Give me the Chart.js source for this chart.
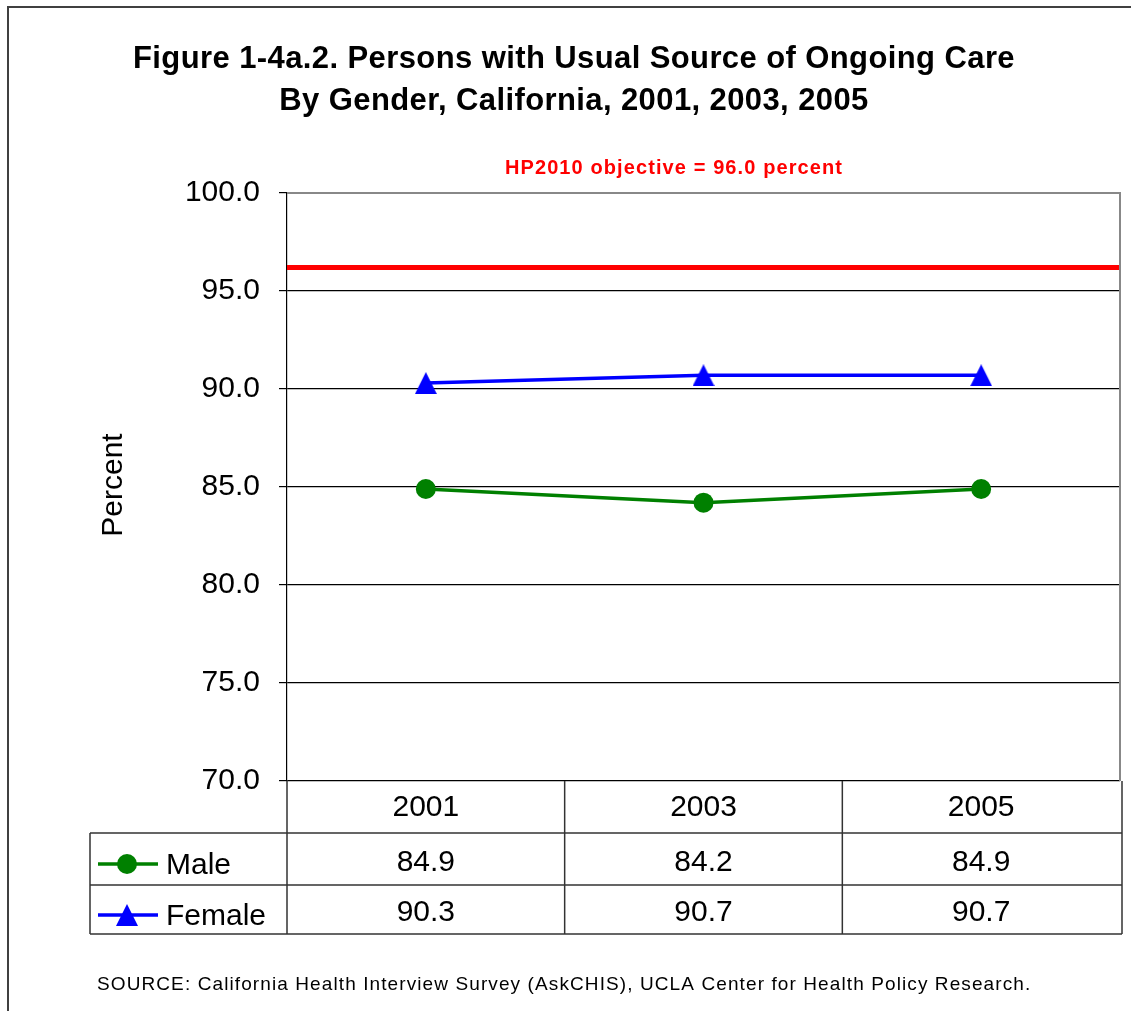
<!DOCTYPE html>
<html>
<head>
<meta charset="utf-8">
<script src="https://cdn.jsdelivr.net/npm/chart.js@4"></script>
<style>
  body { margin: 0; background: #fff; }
  #wrap { width: 1131px; height: 1011px; }
</style>
</head>
<body>
<div id="wrap"><canvas id="care"></canvas></div>
<script>
// chart data
const years = ["2001", "2003", "2005"];
const male = [84.9, 84.2, 84.9];
const female = [90.3, 90.7, 90.7];
const yTicks = [70, 75, 80, 85, 90, 95, 100];
const objectiveLevel = 96.2; // where the red line sits on the picture
const titleLines = ["Figure 1-4a.2. Persons with Usual Source of Ongoing Care", "By Gender, California, 2001, 2003, 2005"];
const objectiveText = "HP2010 objective = 96.0 percent";
const sourceText = "SOURCE: California Health Interview Survey (AskCHIS), UCLA Center for Health Policy Research.";

const FONT = "'Liberation Sans', Arial, sans-serif";

// triangle marker centred on its box (like the original), used for points and legend
function makeTriangle(size, color) {
    const c = document.createElement('canvas');
    c.width = size;
    c.height = size;
    const t = c.getContext('2d');
    t.fillStyle = color;
    t.beginPath();
    t.moveTo(size / 2, 0);
    t.lineTo(size, size);
    t.lineTo(0, size);
    t.closePath();
    t.fill();
    return c;
}
const triangle = makeTriangle(22, '#0000ff');

// draws the title, red objective line, data table and frame
const extras = {
    id: 'extras',
    beforeDatasetsDraw(chart) {
        const ctx = chart.ctx;
        const area = chart.chartArea;
        const y = chart.scales.y;
        ctx.save();

        // plot border (gray)
        ctx.strokeStyle = '#888';
        ctx.lineWidth = 2;
        ctx.beginPath();
        ctx.moveTo(area.left, area.top);
        ctx.lineTo(area.right, area.top);
        ctx.lineTo(area.right, area.bottom);
        ctx.stroke();

        // objective line
        const yo = y.getPixelForValue(objectiveLevel);
        ctx.strokeStyle = '#ff0000';
        ctx.lineWidth = 5;
        ctx.beginPath();
        ctx.moveTo(area.left, yo);
        ctx.lineTo(area.right - 1, yo);
        ctx.stroke();
        ctx.restore();
    },
    afterDraw(chart) {
        const ctx = chart.ctx;
        const area = chart.chartArea;
        const x = chart.scales.x;
        ctx.save();

        // outer frame
        ctx.strokeStyle = '#404040';
        ctx.lineWidth = 2;
        ctx.beginPath();
        ctx.moveTo(8, 1011);
        ctx.lineTo(8, 7);
        ctx.lineTo(1131, 7);
        ctx.stroke();

        // title
        ctx.fillStyle = '#000';
        ctx.textAlign = 'center';
        ctx.textBaseline = 'alphabetic';
        ctx.font = 'bold 31px ' + FONT;
        ctx.letterSpacing = '0.4px';
        ctx.fillText(titleLines[0], 574, 68);
        ctx.fillText(titleLines[1], 574, 110);

        // objective label
        ctx.fillStyle = '#ff0000';
        ctx.font = 'bold 20px ' + FONT;
        ctx.letterSpacing = '1.1px';
        ctx.fillText(objectiveText, 674, 174);
        ctx.letterSpacing = '0px';

        // y axis title
        ctx.fillStyle = '#000';
        ctx.font = '30px ' + FONT;
        ctx.save();
        ctx.translate(122, 485);
        ctx.rotate(-Math.PI / 2);
        ctx.textBaseline = 'alphabetic';
        ctx.fillText('Percent', 0, 0);
        ctx.restore();

        // data table
        const top = area.bottom;
        const r1 = top + 52, r2 = r1 + 52, r3 = r2 + 49;
        const colW = (area.right - area.left) / years.length;
        const tableRight = area.right + 2;
        const tableLeft = 90;
        ctx.strokeStyle = '#333';
        ctx.lineWidth = 1.5;
        ctx.beginPath();
        // horizontal
        ctx.moveTo(tableLeft, r1); ctx.lineTo(tableRight, r1);
        ctx.moveTo(tableLeft, r2); ctx.lineTo(tableRight, r2);
        ctx.moveTo(tableLeft, r3); ctx.lineTo(tableRight, r3);
        // vertical
        ctx.moveTo(tableLeft, r1); ctx.lineTo(tableLeft, r3);
        for (let i = 0; i <= years.length; i++) {
            const xx = i === years.length ? tableRight : area.left + i * colW;
            ctx.moveTo(xx, top); ctx.lineTo(xx, r3);
        }
        ctx.stroke();

        ctx.fillStyle = '#000';
        ctx.font = '30px ' + FONT;
        ctx.textAlign = 'center';
        ctx.textBaseline = 'middle';
        years.forEach((yr, i) => {
            const cx = x.getPixelForValue(i);
            ctx.fillText(yr, cx, (top + r1) / 2 + 1);
            ctx.fillText(male[i].toFixed(1), cx, (r1 + r2) / 2 + 4);
            ctx.fillText(female[i].toFixed(1), cx, (r2 + r3) / 2 + 3);
        });

        // legend keys inside the table
        const keys = [
            { label: 'Male', color: '#008000', shape: 'circle', cy: 864 },
            { label: 'Female', color: '#0000ff', shape: 'triangle', cy: 915 }
        ];
        keys.forEach(k => {
            ctx.strokeStyle = k.color;
            ctx.fillStyle = k.color;
            ctx.lineWidth = 3.5;
            ctx.beginPath();
            ctx.moveTo(98, k.cy);
            ctx.lineTo(158, k.cy);
            ctx.stroke();
            if (k.shape === 'circle') {
                ctx.beginPath();
                ctx.arc(127, k.cy, 10, 0, Math.PI * 2);
                ctx.fill();
            } else {
                ctx.drawImage(triangle, 127 - 11, k.cy - 11);
            }
            ctx.fillStyle = '#000';
            ctx.textAlign = 'left';
            ctx.fillText(k.label, 166, k.cy + 2);
        });

        // source note
        ctx.font = '19px ' + FONT;
        ctx.letterSpacing = '1.1px';
        ctx.textAlign = 'left';
        ctx.textBaseline = 'alphabetic';
        ctx.fillStyle = '#000';
        ctx.fillText(sourceText, 97, 990);
        ctx.restore();
    }
};

const ctx = document.getElementById('care').getContext('2d');
const careChart = new Chart(ctx, {
    type: 'line',
    data: {
        labels: years,
        datasets: [{
            label: 'Male',
            data: male,
            borderColor: '#008000',
            backgroundColor: '#008000',
            borderWidth: 3.5,
            pointStyle: 'circle',
            pointRadius: 10,
            pointBorderWidth: 0
        }, {
            label: 'Female',
            data: female,
            borderColor: '#0000ff',
            backgroundColor: '#0000ff',
            borderWidth: 3.5,
            pointStyle: triangle,
            pointRadius: 11,
            pointBorderWidth: 0
        }]
    },
    options: {
        responsive: true,
        maintainAspectRatio: false,
        animation: false,
        layout: {
            padding: { left: 0, top: 193, right: 11, bottom: 230 }
        },
        plugins: {
            legend: { display: false },
            tooltip: { enabled: false }
        },
        scales: {
            x: {
                display: false,
                offset: true
            },
            y: {
                min: 70,
                max: 100,
                afterFit: s => { s.width = 287; },
                afterBuildTicks: s => { s.ticks = yTicks.map(v => ({ value: v })); },
                ticks: {
                    color: '#000',
                    padding: 19,
                    font: { family: FONT, size: 30 },
                    callback: v => Number(v).toFixed(1)
                },
                grid: {
                    color: '#000',
                    lineWidth: 1.2,
                    tickLength: 8
                },
                border: { color: '#000', width: 1.2 }
            }
        }
    },
    plugins: [extras]
});
</script>
</body>
</html>
